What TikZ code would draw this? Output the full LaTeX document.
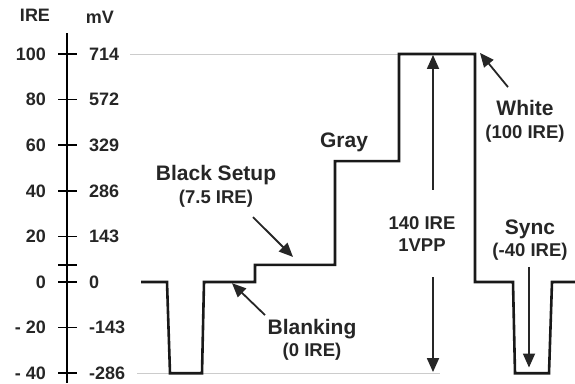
\documentclass[tikz,border=0pt]{standalone}
\usepackage{fontspec}
\setmainfont{Liberation Sans}
\usetikzlibrary{arrows.meta}
\newcommand{\subtxt}[1]{{\fontsize{18.5}{22}\selectfont #1}}

\begin{document}
\begin{tikzpicture}[x=1pt, y=2.28pt,
  lbl/.style={font=\bfseries\fontsize{21}{22.5}\selectfont, text=black!85, align=center, inner sep=0pt},
  num/.style={font=\bfseries\fontsize{18}{20}\selectfont, text=black!85, inner sep=0pt},
  pointer/.style={line width=1.8pt, draw=black!85, -{Triangle[length=14pt,width=12pt]}},
  guide/.style={gray!40, line width=1pt},
  signal/.style={line width=2.6pt, black!90, line join=miter}]
  \useasboundingbox (0,-44.3) rectangle (575,123.7);

  % scale
  \node[num] (ire) at (35,117) {IRE};
  \node[num] (mv) at (100,116.2) {mV};
  \draw[line width=1.8pt] (67,109.2) -- (67,-44.3);
  \foreach \v/\a/\m in {100/100/714, 80/80/572, 60/60/329, 40/40/286,
                        20/20/143, 0/0/0, -20/- 20/-143, -40/- 40/-286} {
    \draw[line width=1.6pt] (58,\v) -- (77,\v);
    \node[num, anchor=east] at (46,\v) {\a};
    \node[num, anchor=west] at (89,\v) {\m};
  }
  \draw[line width=1.6pt] (58,7.5) -- (77,7.5);

  % reference levels
  \draw[guide] (130,100) -- (398,100);
  \draw[guide] (137,-40) -- (440,-40);

  % waveform
  \draw[signal] (141,0) -- (167,0) -- (170,-40) -- (202,-40) -- (204,0)
    -- (255,0) -- (255,7.5) -- (335,7.5) -- (335,53) -- (399,53)
    -- (399,100) -- (475,100) -- (475,0) -- (513,0) -- (515,-40)
    -- (549,-40) -- (552,0) -- (575,0);

  % labels
  \node[lbl] (gray) at (344,61.4) {Gray};
  \node[lbl] (setup) at (216,41.9) {Black Setup\\\subtxt{(7.5 IRE)}};
  \node[lbl] (blank) at (312,-25.4) {Blanking\\\subtxt{(0 IRE)}};
  \node[lbl, font=\bfseries\fontsize{18.5}{22}\selectfont] (span) at (422,21.1) {140 IRE\\1VPP};
  \node[lbl] (white) at (525,70.6) {White\\\subtxt{(100 IRE)}};
  \node[lbl] (sync) at (530,18.4) {Sync\\\subtxt{(-40 IRE)}};

  \coordinate (setupTip) at (293,11);
  \coordinate (blankTip) at (232,-0.5);
  \coordinate (topTip) at (433,99.6);
  \coordinate (botTip) at (433,-39.5);
  \coordinate (whiteTip) at (480,100.5);
  \coordinate (syncTip) at (529,-37.5);

  \draw[pointer] (253,28.5) -- (setupTip);
  \draw[pointer] (265,-14.5) -- (blankTip);
  \draw[pointer] (433,40.4) -- (topTip);
  \draw[pointer] (433,2.2) -- (botTip);
  \draw[pointer] (508,85.5) -- (whiteTip);
  \draw[pointer] (529,6.6) -- (syncTip);
\end{tikzpicture}
\end{document}
